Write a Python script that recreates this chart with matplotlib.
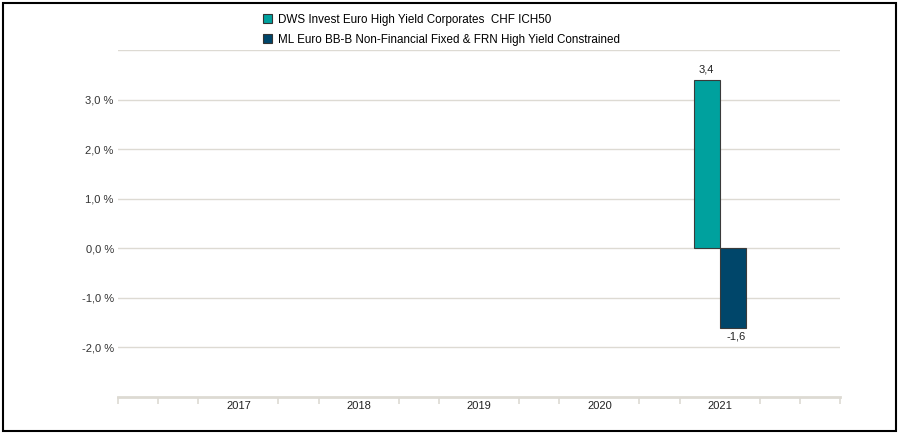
import numpy as np
import matplotlib.pyplot as plt
from matplotlib.ticker import MultipleLocator
from matplotlib.patches import Rectangle

plt.rcParams['font.family'] = ['Liberation Sans', 'DejaVu Sans']

years = [2017, 2018, 2019, 2020, 2021]
fund_name = 'DWS Invest Euro High Yield Corporates  CHF ICH50'
bench_name = 'ML Euro BB-B Non-Financial Fixed & FRN High Yield Constrained'
fund_values = [np.nan, np.nan, np.nan, np.nan, 3.4]
bench_values = [np.nan, np.nan, np.nan, np.nan, -1.6]

fund_color = '#00A19E'
bench_color = '#00466A'
grid_color = '#DDDAD3'

fig = plt.figure(figsize=(8.99, 4.33), dpi=100)
ax = fig.add_axes([118 / 899, 1 - 397 / 433, (840 - 118) / 899, (397 - 50) / 433])

bar_w = 0.216
x = np.array(years, dtype=float)
ax.bar(x - bar_w / 2, fund_values, width=bar_w, color=fund_color,
       edgecolor='#3a3a3a', linewidth=0.8, label=fund_name, zorder=3)
ax.bar(x + bar_w / 2, bench_values, width=bar_w, color=bench_color,
       edgecolor='#3a3a3a', linewidth=0.8, label=bench_name, zorder=3)

for xi, v in zip(x, fund_values):
    if not np.isnan(v):
        ax.text(xi - bar_w / 2, v + 0.1, f'{v:.1f}'.replace('.', ','),
                ha='center', va='bottom', fontsize=8, color='#222222')
for xi, v in zip(x, bench_values):
    if not np.isnan(v):
        ax.text(xi + bar_w / 2 + 0.03, v - 0.08, f'{v:.1f}'.replace('.', ','),
                ha='center', va='top', fontsize=8, color='#222222')

ax.set_xlim(2016, 2022)
ax.set_ylim(-3, 4)
ax.set_yticks([-2, -1, 0, 1, 2, 3, 4])
ax.set_yticklabels([f'{t:.1f} %'.replace('.', ',') for t in [-2, -1, 0, 1, 2, 3]] + [''],
                   fontsize=8, color='#333333')
ax.yaxis.grid(True, color=grid_color, linewidth=1.0, zorder=0)
ax.tick_params(axis='y', length=0, pad=3)

ax.set_xticks(years)
ax.set_xticklabels([str(y) for y in years], fontsize=8, color='#222222')
ax.xaxis.set_minor_locator(MultipleLocator(1 / 3))
ax.tick_params(axis='x', which='major', length=0, pad=3)
ax.tick_params(axis='x', which='minor', length=5, color=grid_color, width=1.2)

for s in ['top', 'right', 'left']:
    ax.spines[s].set_visible(False)
ax.spines['bottom'].set_color(grid_color)
ax.spines['bottom'].set_linewidth(2)

leg = fig.legend(loc='upper left', bbox_to_anchor=(252 / 899, 1 - 3 / 433),
                 frameon=False, fontsize=8.4, handlelength=0.85, handleheight=0.85,
                 handletextpad=0.45, labelspacing=0.7)
for h in leg.legend_handles:
    h.set_edgecolor('#333333')

# outer frame
fig.patches.append(Rectangle((3 / 899, 2 / 433), 893 / 899, 428 / 433, transform=fig.transFigure,
                             fill=False, edgecolor='black', linewidth=1.5))

fig.savefig('out.png', dpi=100)
